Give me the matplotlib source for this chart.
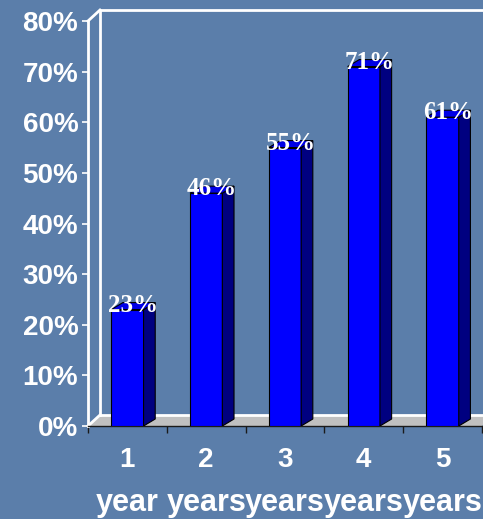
import matplotlib
matplotlib.use("Agg")
import matplotlib.pyplot as plt

categories = [1, 2, 3, 4, 5]
number_labels = ["1", "2", "3", "4", "5"]
unit_labels = ["year", "years", "years", "years", "years"]
values = [23, 46, 55, 71, 61]
value_labels = ["23%", "46%", "55%", "71%", "61%"]
y_ticks = [0, 10, 20, 30, 40, 50, 60, 70, 80]
y_tick_labels = ["0%", "10%", "20%", "30%", "40%", "50%", "60%", "70%", "80%"]

BG = "#5b7eaa"
SANS = ["Liberation Sans", "DejaVu Sans"]
SERIF = ["Liberation Serif", "DejaVu Serif"]

fig = plt.figure(figsize=(4.83, 5.19), dpi=100, facecolor=BG)
ax = fig.add_axes([88 / 483, (519 - 426) / 519, 394 / 483, 405 / 519])
ax.set_facecolor("none")
ax.set_xlim(0.5, 5.5)
ax.set_ylim(0, 80)

# depth offsets (data units)
fdx, fdy = 0.152, 2.17     # floor / walls
bdx, bdy = 0.148, 1.38     # bars
w = 0.41

# floor
ax.fill([0.5, 5.5, 5.5 + fdx, 0.5 + fdx], [0, 0, fdy, fdy], color="#c0c0c0",
        zorder=1, clip_on=False, lw=0)
ax.plot([0.5 + fdx, 5.5 + fdx], [fdy, fdy], color="white", lw=2, zorder=1.5, clip_on=False)
ax.plot([0.5, 0.5 + fdx], [0, fdy], color="white", lw=2, zorder=1.5, clip_on=False)
# back wall outline
ax.plot([0.5 + fdx, 0.5 + fdx, 5.5 + fdx], [fdy, 80 + fdy, 80 + fdy], color="white",
        lw=2, zorder=1.5, clip_on=False)
ax.plot([0.5, 0.5 + fdx], [80, 80 + fdy], color="white", lw=2, zorder=1.5, clip_on=False)

# bars
ax.bar(categories, values, width=w, color="#0000ff", edgecolor="black", lw=0.8, zorder=3)
for x, v, lab in zip(categories, values, value_labels):
    r = x + w / 2
    l = x - w / 2
    ax.fill([r, r + bdx, r + bdx, r], [0, bdy, v + bdy, v], facecolor="#000080",
            edgecolor="black", lw=0.8, zorder=3)
    ax.fill([l, r, r + bdx, l + bdx], [v, v, v + bdy, v + bdy], facecolor="#0000e6",
            edgecolor="black", lw=0.8, zorder=3)
    ax.text(x + bdx / 2, v - 0.4, lab, ha="center", va="baseline", color="white",
            fontsize=18, fontweight="bold", family=SERIF, zorder=5)

# axes styling
for s in ["top", "right"]:
    ax.spines[s].set_visible(False)
ax.spines["left"].set_color("white")
ax.spines["left"].set_linewidth(2)
ax.spines["left"].set_zorder(2)
ax.spines["bottom"].set_color("#1a1a1a")
ax.spines["bottom"].set_linewidth(1)

ax.set_yticks(y_ticks)
ax.set_yticklabels(y_tick_labels, fontsize=20, fontweight="bold", color="white", family=SANS)
ax.tick_params(axis="y", colors="white", length=4.5, width=1.2, pad=2.5, labelcolor="white")

ax.set_xticks([0.5, 1.5, 2.5, 3.5, 4.5, 5.5])
ax.set_xticklabels([])
ax.tick_params(axis="x", which="major", color="#1a1a1a", length=5, width=1)
ax.set_xticks(categories, minor=True)
ax.set_xticklabels(number_labels, minor=True, fontsize=20, fontweight="bold",
                   color="white", family=SANS)
ax.tick_params(axis="x", which="minor", length=0, pad=15)

trans = ax.get_xaxis_transform()
for x, lab in zip(categories, unit_labels):
    ax.text(x, -0.191, lab, transform=trans, ha="center", va="center", color="white",
            fontsize=22, fontweight="bold", family=SANS, clip_on=False)

fig.savefig("out.png", dpi=100, facecolor=BG)
